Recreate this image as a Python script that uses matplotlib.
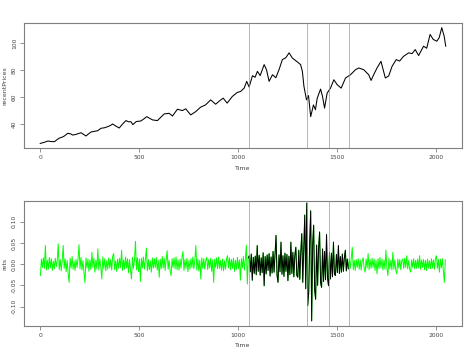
import numpy as np
import matplotlib
matplotlib.use('Agg')
import matplotlib.pyplot as plt

# price series (day index, price)
price_days = [0, 20, 39, 55, 72, 85, 97, 110, 122, 139, 155, 164, 181, 193, 206, 218, 231, 245,
              257, 275, 290, 307, 325, 341, 355, 366, 380, 399, 415, 433, 446, 458, 468, 485,
              508, 522, 538, 567, 592, 610, 626, 651, 668, 693, 718, 735, 760, 785, 810, 835,
              861, 886, 905, 924, 944, 970, 995, 1012, 1030, 1043, 1055, 1072, 1085, 1097, 1111,
              1131, 1143, 1156, 1173, 1190, 1206, 1223, 1240, 1257, 1273, 1295, 1315, 1324, 1332,
              1345, 1355, 1366, 1380, 1390, 1399, 1416, 1426, 1436, 1449, 1466, 1483, 1500, 1520,
              1542, 1567, 1592, 1609, 1634, 1659, 1671, 1686, 1701, 1721, 1743, 1760, 1777, 1798,
              1815, 1835, 1861, 1878, 1894, 1911, 1936, 1952, 1969, 1985, 2003, 2015, 2028, 2040,
              2048]
prices = [25.6, 26.4, 27.4, 27.0, 26.9, 28.4, 29.6, 30.2, 31.1, 33.1, 32.6, 31.8, 32.3, 32.9,
          33.5, 32.4, 31.1, 32.8, 34.1, 34.6, 35.0, 36.8, 37.2, 38.0, 38.9, 40.0, 38.6, 37.0,
          39.8, 42.5, 41.6, 41.7, 39.5, 41.8, 42.2, 43.6, 45.4, 43.0, 42.5, 45.1, 47.4, 47.9,
          45.9, 50.9, 49.9, 51.2, 46.7, 49.1, 52.4, 54.1, 57.8, 54.6, 57.0, 59.1, 55.4, 60.3,
          63.3, 64.0, 66.5, 71.5, 67.3, 75.7, 74.5, 78.9, 75.8, 83.9, 80.0, 71.5, 76.4, 74.2,
          80.1, 87.6, 88.9, 92.6, 88.8, 86.3, 83.9, 78.9, 67.7, 57.8, 61.0, 45.4, 54.1, 50.5,
          59.1, 65.8, 60.2, 51.7, 62.8, 66.5, 72.7, 69.0, 66.5, 74.0, 76.4, 80.1, 81.4, 80.1,
          76.4, 72.2, 77.0, 81.4, 86.3, 74.0, 75.5, 82.6, 87.6, 86.5, 90.0, 92.6, 92.0, 95.0,
          90.6, 97.5, 96.0, 106.2, 102.5, 101.2, 103.8, 111.2, 105.0, 97.5]

# returns, one value every 5 days, in thousandths
rets_milli = [
    -27, 12, -8, 15, -10, 44, -14, 9, -12, 16,
    -9, 13, -15, 7, -11, 14, -6, 10, 48, -13,
    11, -16, 8, 44, -10, 12, -18, 9, -22, -43,
    14, -9, 18, -12, 7, -15, 11, -8, 13, 46,
    -11, 16, -14, 8, -20, -44, 15, -9, 12, -17,
    10, -13, 28, -8, 14, -19, 9, -11, 36, -14,
    12, -7, -35, 17, -10, 13, -16, 8, -12, 15,
    -9, 11, -14, 19, 25, -13, 8, -17, 12, -10,
    14, -8, 33, -15, 10, -12, 17, -9, 13, -20,
    11, -14, -35, 16, -10, 9, 54, -13, 15, -18,
    12, -41, 14, -9, 17, -12, 10, 38, -16, 11,
    -13, 8, -19, 15, -10, 13, -8, 16, -14, 9,
    -31, 12, -11, 18, -9, 14, -15, 10, 32, -12,
    9, -16, -27, 13, -8, 15, -11, 17, -13, 10,
    -14, 12, -9, 16, 30, -15, 11, -10, 14, -18,
    9, -12, 13, -8, 17, -11, 10, 44, -14, 12,
    -16, 9, -35, 15, -10, 13, -12, 8, 16, -13,
    11, -9, 14, -17, 10, -43, 12, -8, 15, -11,
    17, -10, 9, -14, 12, -16, 8, -12, 13, 20,
    -9, 15, -13, 11, -10, 14, -17, 9, -12, 16,
    -11, 10, -38, 13, -9, 18, -14, 12, 45, -47,
    15,
    # volatile stretch
    20, -18, 24, -38, 16, -22, 19, -25, 44, -17,
    21, -26, 15, -20, 27, -51, 18, -23, 22, -15,
    25, -28, 17, -21, 30, -19, 24, 68, -26, -43,
    22, -18, 52, -24, 20, -29, 26, -17, 23, -39,
    19, -25, 52, -22, 28, -30, 21, 40, -27, -31,
    33, -36, 29, 72, -43, 38, 116, -58, 144, -98,
    -67, 55, 126, -134, 48, 92, -62, -83, 45, -50,
    39, 76, -44, -55, 36, -41, 30, -37, 70, -33,
    -51, 28, -35, 26, -30, 52, -24, -27, 23, -20,
    44, -22, 18, -19, 24, -17, 15, 33, -16, 12, -11,
    # calm again
    12, -10, 14, 40, -13, 9, -15, 11, -8, 13,
    -12, 10, -14, 8, 15, -11, -19, 12, -9, 25,
    -13, 11, -10, 14, -8, 12, -15, 9, -23, 13,
    -11, 16, -9, 12, -14, 10, -12, 33, -10, -27,
    14, -11, 9, -13, 28, -12, 10, -15, -23, 12,
    -9, 11, -13, 8, 12, -10, 14, -8, 20, -11,
    9, -12, -19, 10, -8, 13, -11, 9, -10, 12,
    -9, 20, -12, 10, -8, 11, -13, 9, -15, 12,
    -10, 8, -11, 13, -9, 10, -12, 14, 20, -10,
    11, -19, 12, -9, 13, -14, -43, 10,
]
ret_step = 5
black_start, black_end = 210, 312   # sample indices of the highlighted stretch

breaks = [1055, 1349, 1461, 1560]   # red marker lines

x_ticks = [0, 500, 1000, 1500, 2000]
price_ticks = [40, 60, 80, 100]
ret_ticks = [-0.10, -0.05, 0.00, 0.05, 0.10]

rets = np.array(rets_milli) / 1000.0
ret_days = np.arange(len(rets)) * ret_step + 1

FRAME = '#7f7f7f'
TXT = '#444444'
RED = '#ec6f6f'


def style_axes(ax, ylabel, yticks, yfmt):
    for s in ax.spines.values():
        s.set_color(FRAME)
        s.set_linewidth(0.8)
    ax.set_xlim(-82, 2130)
    ax.set_xticks(x_ticks)
    ax.set_xticklabels([str(t) for t in x_ticks])
    ax.set_yticks(yticks)
    ax.set_yticklabels([yfmt.format(v) for v in yticks], rotation=90, va='center')
    ax.tick_params(axis='both', colors=FRAME, labelcolor=TXT, labelsize=4.3,
                   length=3, width=0.6, pad=2)
    ax.set_xlabel('Time', fontsize=4.5, color=TXT, labelpad=4)
    ax.set_ylabel(ylabel, fontsize=4.5, color=TXT, labelpad=3)


fig = plt.figure(figsize=(4.74, 3.55), dpi=100)
ax1 = fig.add_axes([0.0506, 0.583, 0.924, 0.352])
ax2 = fig.add_axes([0.0506, 0.0817, 0.924, 0.352])

ax1.plot(price_days, prices, color='black', linewidth=0.75)
for b in breaks:
    ax1.axvline(b, color=RED, linewidth=0.6, alpha=0.8, zorder=3)
ax1.set_ylim(22.2, 114.6)
style_axes(ax1, 'recentPrices', price_ticks, '{:.0f}')

ax2.plot(ret_days, rets, color='#00ff00', linewidth=0.7)
ax2.plot(ret_days[black_start:black_end], rets[black_start:black_end],
         color='black', linewidth=0.7)
for b in breaks:
    ax2.axvline(b, color=RED, linewidth=0.6, alpha=0.8, zorder=3)
ax2.set_ylim(-0.146, 0.149)
style_axes(ax2, 'rets', ret_ticks, '{:.2f}')

fig.savefig('out.png', dpi=100)
